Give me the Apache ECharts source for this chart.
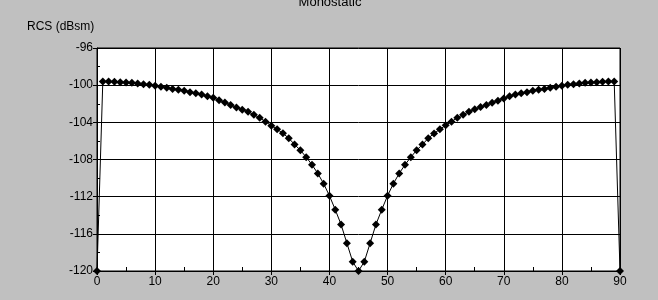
<!DOCTYPE html>
<html>
<head>
<meta charset="utf-8">
<script src="https://cdn.jsdelivr.net/npm/echarts@6/dist/echarts.min.js"></script>
<style>
html,body{margin:0;padding:0;background:#c0c0c0;}
#c{width:658px;height:300px;}
</style>
</head>
<body>
<div id="c"></div>
<script>
const titleText = 'Monostatic';
const yAxisName = 'RCS (dBsm)';
const angles = [];
for (let i = 0; i <= 90; i++) angles.push(i);
const rcs = [
  -120.0, -99.60, -99.60, -99.64, -99.68, -99.71, -99.75, -99.82, -99.89, -99.96,
  -100.07, -100.18, -100.29, -100.40, -100.50, -100.60, -100.75, -100.86, -101.00, -101.19,
  -101.36, -101.61, -101.86, -102.14, -102.40, -102.64, -102.86, -103.18, -103.50, -103.93,
  -104.36, -104.75, -105.18, -105.71, -106.39, -107.00, -107.75, -108.57, -109.50, -110.60,
  -111.90, -113.40, -115.00, -117.00, -119.00, -120.00, -119.00, -117.00, -115.00, -113.40,
  -111.90, -110.60, -109.50, -108.57, -107.75, -107.00, -106.39, -105.71, -105.20, -104.75,
  -104.32, -103.93, -103.50, -103.18, -102.86, -102.60, -102.36, -102.14, -101.90, -101.68,
  -101.43, -101.19, -101.00, -100.86, -100.75, -100.60, -100.50, -100.40, -100.29, -100.18,
  -100.07, -99.96, -99.89, -99.82, -99.75, -99.71, -99.68, -99.64, -99.60, -99.60,
  -120.0
];
const xMin = 0, xMax = 90, xStep = 10;
const yMin = -120, yMax = -96, yStep = 4;

const chart = echarts.init(document.getElementById('c'));
const font = 'Liberation Sans, Arial, sans-serif';
const grid = {left: 97, top: 48, right: 38, bottom: 29, show: true, backgroundColor: '#fff', borderColor: '#000', borderWidth: 1};
chart.setOption({
  backgroundColor: '#c0c0c0',
  animation: false,
  title: {
    text: titleText, left: 325, textAlign: 'center', top: -9,
    textStyle: {fontFamily: font, fontSize: 13, fontWeight: 'normal', color: '#000'}
  },
  graphic: [{
    type: 'text', left: 27, top: 21,
    style: {text: yAxisName, fontFamily: font, fontSize: 12, fill: '#000'}
  }],
  grid: grid,
  xAxis: [{
    type: 'value', min: xMin, max: xMax, interval: xStep,
    axisLine: {show: true, lineStyle: {color: '#000', width: 1}},
    axisTick: {show: true, length: 4, lineStyle: {color: '#000'}},
    axisLabel: {color: '#000', fontFamily: font, fontSize: 12, margin: 5},
    splitLine: {show: true, lineStyle: {color: '#000', width: 1}},
    minorTick: {show: false}
  }, {
    type: 'value', min: xMin, max: xMax, interval: xStep, position: 'bottom',
    axisLine: {show: false}, axisLabel: {show: false}, splitLine: {show: false},
    axisTick: {show: false, inside: true},
    minorTick: {show: true, splitNumber: 2, length: 4, lineStyle: {color: '#000'}}
  }],
  yAxis: [{
    type: 'value', min: yMin, max: yMax, interval: yStep,
    axisLine: {show: true, lineStyle: {color: '#000', width: 1}},
    axisTick: {show: true, length: 4, lineStyle: {color: '#000'}},
    axisLabel: {color: '#000', fontFamily: font, fontSize: 12, margin: 4},
    splitLine: {show: true, lineStyle: {color: '#000', width: 1}}
  }, {
    type: 'value', min: yMin, max: yMax, interval: yStep, position: 'left',
    axisLine: {show: false}, axisLabel: {show: false}, splitLine: {show: false},
    axisTick: {show: false, inside: true},
    minorTick: {show: true, splitNumber: 2, length: 3, lineStyle: {color: '#000'}}
  }],
  series: [{
    type: 'line', xAxisIndex: 0, yAxisIndex: 0,
    data: angles.map((a, i) => [a, rcs[i]]),
    symbol: 'diamond', symbolSize: 8, showSymbol: true, clip: false,
    itemStyle: {color: '#000'},
    lineStyle: {color: '#000', width: 1}
  }]
});
</script>
</body>
</html>
